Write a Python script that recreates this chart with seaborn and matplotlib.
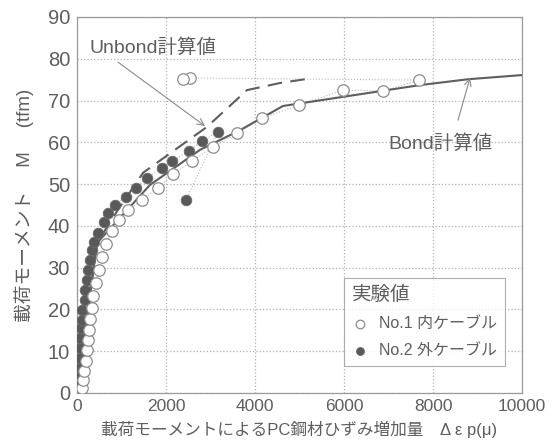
import numpy as np
import pandas as pd
import matplotlib
matplotlib.use("Agg")
import matplotlib.pyplot as plt
import seaborn as sns

# ---- data ----
no1_x = [112, 135, 157, 202, 225, 247, 270, 292, 337, 360, 427, 494, 562, 652, 787, 944,
         1146, 1461, 1820, 2157, 2584, 3056, 3596, 4157, 4989, 5978, 6876, 7685, 2539, 2382]
no1_m = [1.2, 3.1, 5.3, 7.7, 10.3, 12.7, 15.1, 17.7, 20.3, 23.2, 26.3, 29.4, 32.6, 35.7, 38.8, 41.4,
         43.8, 46.2, 49.1, 52.4, 55.5, 58.9, 62.2, 65.8, 68.9, 72.5, 72.3, 74.9, 75.4, 75.2]

no2_x = [45, 67, 45, 67, 67, 67, 90, 112, 112, 180, 180, 225, 247, 292, 337, 382, 472, 607,
         697, 854, 1101, 1326, 1573, 1910, 2135, 2517, 2809, 3169, 2449]
no2_m = [1.9, 3.8, 6.0, 8.4, 10.8, 13.2, 15.6, 17.5, 19.9, 22.3, 24.7, 27.0, 29.4, 31.8, 34.2, 36.1, 38.3, 40.9,
         43.1, 45.0, 46.9, 49.1, 51.5, 53.9, 55.5, 57.9, 60.3, 62.5, 46.2]

bond_x = [0, 449, 1640, 2764, 3663, 4629, 7708, 8787, 10000]
bond_m = [0, 35.9, 49.8, 58.2, 62.9, 68.7, 73.7, 75.1, 76.1]

unbond_x = [0, 449, 900, 1483, 2921, 3820, 4562, 5124]
unbond_m = [0, 35.9, 43.5, 52.7, 63.7, 72.5, 74.2, 75.1]

x_ticks = [0, 2000, 4000, 6000, 8000, 10000]
y_ticks = [0, 10, 20, 30, 40, 50, 60, 70, 80, 90]

# ---- style ----
sns.set_theme(style="white")
plt.rcParams['font.family'] = ['Liberation Sans', 'Noto Sans CJK JP', 'DejaVu Sans']

TXT = '#5e5e5e'
fig = plt.figure(figsize=(5.54, 4.42), dpi=100)
ax = fig.add_axes([77 / 554, 1 - 393 / 442, 445 / 554, 376 / 442])

df1 = pd.DataFrame({'x': no1_x, 'm': no1_m})
df2 = pd.DataFrame({'x': no2_x, 'm': no2_m})
dfb = pd.DataFrame({'x': bond_x, 'm': bond_m})
dfu = pd.DataFrame({'x': unbond_x, 'm': unbond_m})

# thin connecting lines
sns.lineplot(data=df1, x='x', y='m', sort=False, ax=ax, color='#b8b8b8', lw=0.8,
             linestyle=':', estimator=None)
sns.lineplot(data=df2, x='x', y='m', sort=False, ax=ax, color='#b8b8b8', lw=0.8,
             linestyle=':', estimator=None)

# calculation lines
sns.lineplot(data=dfb, x='x', y='m', sort=False, ax=ax, color='#5e5e5e', lw=1.5,
             estimator=None)
sns.lineplot(data=dfu, x='x', y='m', sort=False, ax=ax, color='#5e5e5e', lw=1.5,
             linestyle=(0, (7, 4)), estimator=None)

# experimental points
sns.scatterplot(data=df2, x='x', y='m', ax=ax, s=58, color='#595959', edgecolor='#6a6a6a',
                linewidth=0.6, zorder=4, label='No.2 外ケーブル')
sns.scatterplot(data=df1, x='x', y='m', ax=ax, s=68, facecolor='white', edgecolor='#8c8c8c',
                linewidth=0.9, zorder=5, label='No.1 内ケーブル')

ax.set_xlim(0, 10000)
ax.set_ylim(0, 90)
ax.set_xticks(x_ticks)
ax.set_yticks(y_ticks)
ax.set_xticklabels([str(v) for v in x_ticks], fontsize=12.5, color=TXT)
ax.set_yticklabels([str(v) for v in y_ticks], fontsize=14.5, color=TXT)
ax.tick_params(axis='x', length=0, pad=4)
ax.tick_params(axis='y', length=0, pad=5)
ax.grid(True, linestyle=':', color='#b0b0b0', lw=0.9)
for s in ax.spines.values():
    s.set_color('#9a9a9a')
    s.set_linewidth(0.9)

ax.set_xlabel('載荷モーメントによるPC鋼材ひずみ増加量　Δ ε p(μ)', fontsize=12, color=TXT, labelpad=5)
ax.set_ylabel('載荷モーメント　 M　 (tfm)', fontsize=13.5, color=TXT, labelpad=10)

# annotations
ax.text(292, 82.6, 'Unbond計算値', fontsize=14, color=TXT, ha='left', va='center')
ax.annotate('', xy=(2876, 63.9), xytext=(921, 79.2),
            arrowprops=dict(arrowstyle='->', color='#8a8a8a', lw=0.8, shrinkA=0, shrinkB=0))
ax.text(6989, 59.8, 'Bond計算値', fontsize=14, color=TXT, ha='left', va='center')
ax.annotate('', xy=(8831, 75.4), xytext=(8561, 65.3),
            arrowprops=dict(arrowstyle='->', color='#8a8a8a', lw=0.8, shrinkA=0, shrinkB=0))

# legend
h, l = ax.get_legend_handles_labels()
order = [l.index('No.1 内ケーブル'), l.index('No.2 外ケーブル')]
leg = ax.legend([h[i] for i in order], [l[i] for i in order], title='実験値',
                loc='lower right', bbox_to_anchor=(0.98, 0.05), fontsize=11.5,
                title_fontsize=14, frameon=True, fancybox=False, edgecolor='#9a9a9a',
                handlelength=1.0, handletextpad=0.7, labelspacing=0.75, borderpad=0.5,
                markerscale=0.75)
leg._legend_box.align = 'left'
leg.get_frame().set_linewidth(0.8)
for t in leg.get_texts():
    t.set_color(TXT)
leg.get_title().set_color(TXT)

fig.savefig('out.png', dpi=100, facecolor='white')
